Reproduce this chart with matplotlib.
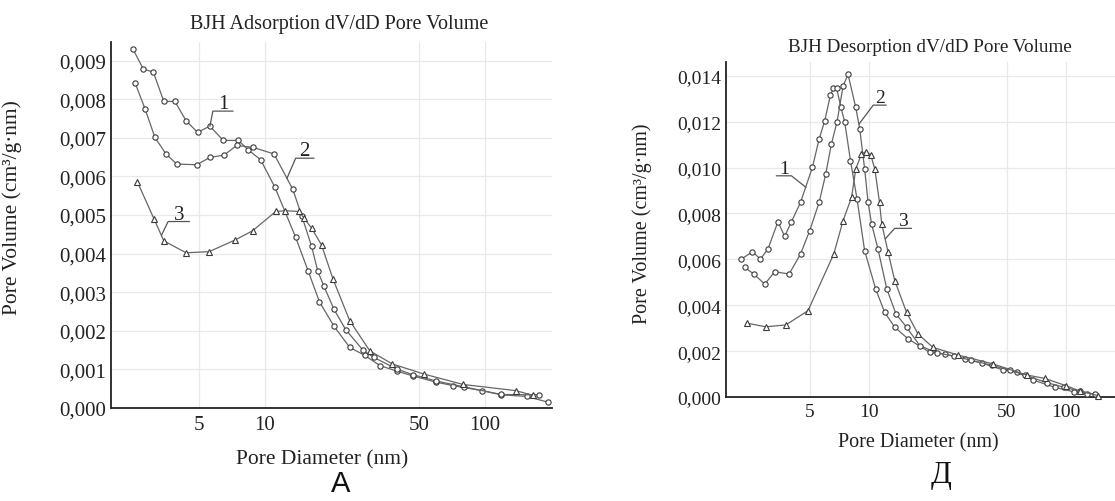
import numpy as np
import matplotlib
matplotlib.use("Agg")
import matplotlib.pyplot as plt
from matplotlib.ticker import FixedLocator, NullLocator, FuncFormatter

# ---- data, x = pore diameter (nm), y = dV/dD (cm3/g.nm)
ads1_x = [2.51, 2.80, 3.11, 3.47, 3.90, 4.38, 4.94, 5.62, 6.47, 7.57, 8.39, 9.56, 11.1,
          13.8, 15.7, 17.7, 20.6, 24.3, 28.5, 33.3, 40.0, 47.2, 60.0, 71.8, 96.6, 119, 155, 194]
ads1_y = [9.30, 8.78, 8.70, 7.94, 7.94, 7.44, 7.14, 7.30, 6.93, 6.93, 6.69, 6.43, 5.72,
          4.42, 3.56, 2.75, 2.12, 1.57, 1.36, 1.10, 0.95, 0.83, 0.67, 0.58, 0.45, 0.34, 0.30, 0.15]

ads2_x = [2.57, 2.85, 3.16, 3.55, 3.97, 4.90, 5.62, 6.52, 7.44, 8.85, 11.0, 13.4, 14.7,
          16.3, 17.4, 18.5, 20.6, 23.3, 28.0, 31.3, 39.7, 47.2, 60.0, 80.0, 119, 177]
ads2_y = [8.42, 7.75, 7.01, 6.58, 6.32, 6.30, 6.49, 6.55, 6.80, 6.75, 6.58, 5.66, 4.98,
          4.19, 3.54, 3.17, 2.56, 2.03, 1.49, 1.31, 1.01, 0.86, 0.70, 0.55, 0.35, 0.34]

ads3_x = [2.63, 3.13, 3.47, 4.38, 5.58, 7.31, 8.79, 11.2, 12.4, 14.3, 15.1, 16.3, 18.1,
          20.4, 24.3, 30.0, 38.0, 52.8, 79.6, 138, 165]
ads3_y = [5.86, 4.90, 4.33, 4.02, 4.05, 4.35, 4.59, 5.09, 5.11, 5.09, 4.91, 4.66, 4.22,
          3.34, 2.26, 1.48, 1.14, 0.88, 0.61, 0.45, 0.33]

des1_x = [2.25, 2.56, 2.81, 3.07, 3.45, 3.73, 4.04, 4.49, 5.16, 5.58, 5.96, 6.37, 6.60,
          6.85, 7.20, 7.53, 8.05, 8.69, 9.50, 10.8, 12.0, 13.5, 15.8, 20.3, 24.2, 30.6,
          37.6, 47.9, 56.0, 68.0, 87.7, 109, 127]
des1_y = [6.01, 6.33, 6.01, 6.45, 7.64, 7.00, 7.64, 8.48, 10.01, 11.24, 12.04, 13.16, 13.45,
          13.45, 12.62, 11.97, 10.30, 8.63, 6.37, 4.71, 3.69, 3.04, 2.53, 1.95, 1.87, 1.66,
          1.47, 1.18, 1.08, 0.74, 0.42, 0.23, 0.13]

des2_x = [2.34, 2.60, 2.96, 3.32, 3.93, 4.49, 5.00, 5.58, 6.03, 6.44, 6.88, 7.38, 7.82,
          8.56, 8.97, 9.50, 9.89, 10.3, 11.1, 12.3, 13.7, 15.5, 18.1, 22.0, 27.0, 33.0,
          42.0, 52.0, 62.0, 80.0, 98.0, 118, 140]
des2_y = [5.65, 5.36, 4.92, 5.46, 5.36, 6.23, 7.25, 8.48, 9.72, 11.02, 12.00, 13.54, 14.07,
          12.62, 11.68, 9.93, 8.48, 7.54, 6.45, 4.71, 3.62, 3.04, 2.24, 1.93, 1.78, 1.60,
          1.38, 1.16, 0.95, 0.62, 0.42, 0.25, 0.12]

des3_x = [2.39, 2.99, 3.78, 4.90, 6.62, 7.38, 8.15, 8.56, 9.15, 9.62, 10.2, 10.7, 11.3,
          11.6, 12.5, 13.5, 15.5, 17.7, 21.1, 28.3, 42.6, 63.0, 78.0, 100, 117, 145]
des3_y = [3.22, 3.06, 3.14, 3.76, 6.23, 7.68, 8.70, 9.93, 10.59, 10.69, 10.55, 9.93, 8.48,
          7.54, 6.30, 5.07, 3.69, 2.75, 2.16, 1.83, 1.44, 0.96, 0.81, 0.49, 0.27, 0.06]

x_ticks = [5, 10, 50, 100]
ads_yticks = np.arange(0, 0.0091, 0.001)
des_yticks = np.arange(0, 0.0141, 0.002)

W, H = 1115, 502
LINE = "#666666"
EDGE = "#3a3a3a"
GRID = "#e9e9e9"

plt.rcParams.update({
    "font.family": ["Liberation Serif", "DejaVu Serif"],
    "axes.unicode_minus": False,
})


def comma(v, _pos):
    return f"{v:.3f}".replace(".", ",")


def style_axes(ax, yticks, fs, xpad, ypad):
    ax.set_xscale("log")
    ax.xaxis.set_major_locator(FixedLocator(x_ticks))
    ax.xaxis.set_minor_locator(NullLocator())
    ax.xaxis.set_major_formatter(FuncFormatter(lambda v, p: f"{v:g}"))
    ax.yaxis.set_major_locator(FixedLocator(yticks))
    ax.yaxis.set_major_formatter(FuncFormatter(comma))
    ax.tick_params(axis="both", length=0, labelsize=fs, colors="#222222")
    ax.tick_params(axis="x", pad=xpad)
    ax.tick_params(axis="y", pad=ypad)
    for s in ("top", "right"):
        ax.spines[s].set_visible(False)
    for s in ("left", "bottom"):
        ax.spines[s].set_linewidth(1.3)
        ax.spines[s].set_color("#222222")
    ax.grid(True, color=GRID, linewidth=0.9)
    ax.set_axisbelow(True)
    ax.set_facecolor("white")


def curve(ax, xs, ys, marker):
    ax.plot(xs, np.array(ys) * 1e-3, color=LINE, linewidth=0.9,
            marker=marker, markersize=3.8 if marker == "o" else 4.4,
            markerfacecolor="white", markeredgecolor=EDGE, markeredgewidth=0.8,
            clip_on=False, zorder=3)


def tag(ax, text, tip, knee, end, fs):
    ax.plot([tip[0], knee[0], end[0]], [tip[1], knee[1], knee[1]],
            color="#555555", linewidth=0.9, clip_on=False, zorder=4)
    xc = np.sqrt(knee[0] * end[0])
    ax.annotate(text, (xc, knee[1]), xytext=(0, 3), textcoords="offset pixels",
                ha="center", va="baseline", fontsize=fs, color="#222222")


fig = plt.figure(figsize=(W / 100, H / 100), dpi=100)

# left panel: adsorption
ax1 = fig.add_axes([110.7 / W, 93 / H, 441.3 / W, 366 / H])
style_axes(ax1, ads_yticks, 15, 5, 3.5)
ax1.set_xlim(1.99, 202)
ax1.set_ylim(0, 0.00948)
curve(ax1, ads1_x, ads1_y, "o")
curve(ax1, ads2_x, ads2_y, "o")
curve(ax1, ads3_x, ads3_y, "^")
tag(ax1, "1", (5.62, 7.30e-3), (5.80, 7.69e-3), (7.15, 7.69e-3), 15)
tag(ax1, "2", (12.6, 5.95e-3), (13.8, 6.47e-3), (16.7, 6.47e-3), 15)
tag(ax1, "3", (3.39, 4.48e-3), (3.63, 4.83e-3), (4.53, 4.83e-3), 15)
ax1.set_xlabel("Pore Diameter (nm)", fontsize=15.5, color="#222222")
ax1.set_ylabel("Pore Volume (cm³/g·nm)", fontsize=15.5, color="#222222")
ax1.xaxis.set_label_coords(0.479, -0.112)
ax1.yaxis.set_label_coords(-0.201, 0.55)
fig.text(339 / W, 1 - 25 / H, "BJH Adsorption dV/dD Pore Volume",
         ha="center", va="center", fontsize=14.5, color="#222222")

# right panel: desorption
ax2 = fig.add_axes([726 / W, 104 / H, 389 / W, 335 / H])
style_axes(ax2, des_yticks, 14, 4, 3.5)
ax2.set_xlim(1.88, 177)
ax2.set_ylim(0, 0.0146)
curve(ax2, des1_x, des1_y, "o")
curve(ax2, des2_x, des2_y, "o")
curve(ax2, des3_x, des3_y, "^")
tag(ax2, "1", (4.78, 9.14e-3), (4.04, 9.64e-3), (3.39, 9.64e-3), 14)
tag(ax2, "2", (8.90, 11.9e-3), (10.5, 12.72e-3), (12.2, 12.72e-3), 14)
tag(ax2, "3", (12.1, 6.9e-3), (13.5, 7.35e-3), (16.4, 7.35e-3), 14)
ax2.set_xlabel("Pore Diameter (nm)", fontsize=14.5, color="#222222")
ax2.set_ylabel("Pore Volume (cm³/g·nm)", fontsize=14.5, color="#222222")
ax2.xaxis.set_label_coords(0.494, -0.104)
ax2.yaxis.set_label_coords(-0.19, 0.52)
fig.text(930 / W, 1 - 48 / H, "BJH Desorption dV/dD Pore Volume",
         ha="center", va="center", fontsize=13.8, color="#222222")

# panel letters
fig.text(341 / W, 1 - 484 / H, "A", ha="center", va="center", fontsize=21,
         family=["Liberation Sans", "DejaVu Sans"], color="#111111")
fig.text(941 / W, 1 - 475 / H, "Д", ha="center", va="center", fontsize=22,
         color="#111111")

fig.savefig("out.png", dpi=100, facecolor="white")
plt.close(fig)
